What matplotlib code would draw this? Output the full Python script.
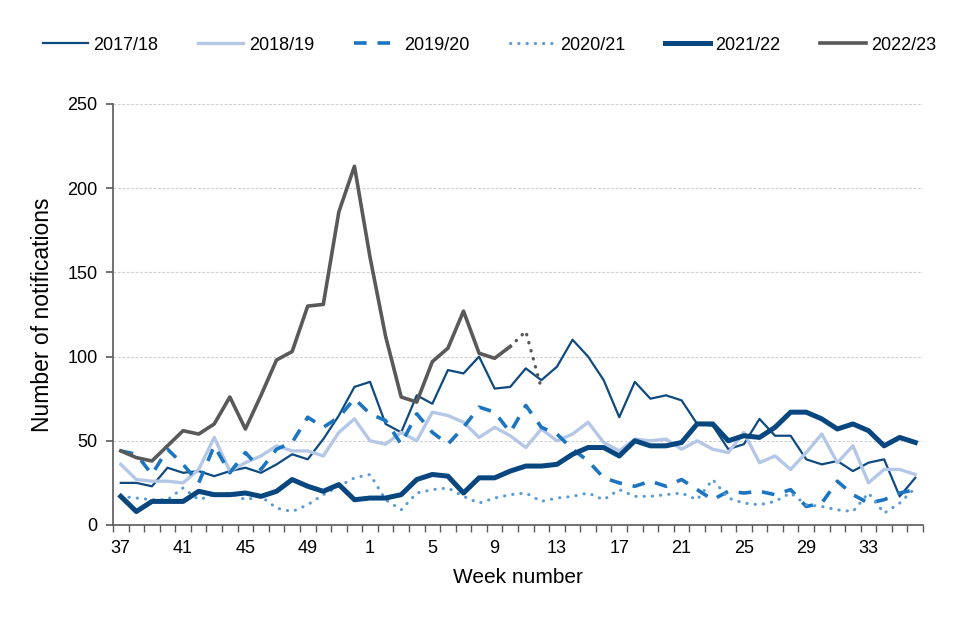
import matplotlib
matplotlib.use("Agg")
import matplotlib.pyplot as plt
import numpy as np

plt.rcParams['font.family'] = ['Liberation Sans', 'DejaVu Sans']

# week numbers along the season (week 37 to week 36)
weeks = [37, 38, 39, 40, 41, 42, 43, 44, 45, 46, 47, 48, 49, 50, 51, 52,
         1, 2, 3, 4, 5, 6, 7, 8, 9, 10, 11, 12, 13, 14, 15, 16, 17, 18,
         19, 20, 21, 22, 23, 24, 25, 26, 27, 28, 29, 30, 31, 32, 33, 34, 35, 36]
tick_weeks = [37, 41, 45, 49, 1, 5, 9, 13, 17, 21, 25, 29, 33]

s1718 = [25, 25, 23, 34, 31, 32, 29, 32, 34, 31, 36, 42, 39, 51, 65, 82,
         85, 60, 55, 77, 72, 92, 90, 100, 81, 82, 93, 86, 94, 110, 100, 86,
         64, 85, 75, 77, 74, 60, 59, 45, 48, 63, 53, 53, 39, 36, 38, 32,
         37, 39, 17, 28]
s1819 = [36, 27, 26, 26, 25, 33, 52, 32, 37, 41, 47, 44, 44, 41, 55, 63,
         50, 48, 55, 50, 67, 65, 61, 52, 58, 53, 46, 57, 50, 54, 61, 49,
         44, 51, 50, 51, 45, 50, 45, 43, 55, 37, 41, 33, 43, 54, 37, 47,
         25, 33, 33, 30]
s1920 = [44, 42, 30, 45, 36, 25, 47, 31, 43, 33, 45, 49, 64, 58, 64, 75,
         66, 62, 48, 66, 55, 48, 58, 70, 67, 55, 71, 58, 54, 45, 38, 28,
         25, 23, 26, 23, 27, 21, 15, 20, 19, 20, 18, 21, 11, 13, 26, 18,
         13, 15, 19, 21]
s2021 = [17, 16, 15, 15, 22, 15, 18, 19, 15, 17, 10, 8, 12, 18, 23, 28,
         30, 15, 9, 19, 21, 22, 17, 13, 16, 18, 19, 14, 16, 17, 19, 15,
         21, 17, 17, 18, 19, 15, 27, 16, 13, 12, 14, 19, 12, 11, 9, 8,
         19, 7, 13, 22]
s2122 = [17, 8, 14, 14, 14, 20, 18, 18, 19, 17, 20, 27, 23, 20, 24, 15,
         16, 16, 18, 27, 30, 29, 19, 28, 28, 32, 35, 35, 36, 42, 46, 46,
         41, 50, 47, 47, 49, 60, 60, 50, 53, 52, 58, 67, 67, 63, 57, 60,
         56, 47, 52, 49]
s2223 = [44, 40, 38, 47, 56, 54, 60, 76, 57, 77, 98, 103, 130, 131, 186, 213,
         159, 112, 76, 73, 97, 105, 127, 102, 99, 106]
s2223_prov = [106, 115, 81]  # weeks 10 to 12, provisional

x = np.arange(len(weeks))

fig = plt.figure(figsize=(9.6, 6.4), dpi=100)
ax = fig.add_axes([0.1177, 0.1797, 0.8438, 0.6578])

ax.plot(x, s1718, color='#0E4A80', lw=1.6, label='2017/18')
ax.plot(x, s1819, color='#B4C7E7', lw=2.4, label='2018/19')
ax.plot(x, s1920, color='#1B75C0', lw=2.6, linestyle=(0, (3.5, 3)), label='2019/20')
ax.plot(x, s2021, color='#5B9BD5', lw=2.2, linestyle=(0, (0.1, 2.6)),
        dash_capstyle='round', label='2020/21')
ax.plot(x, s2122, color='#08467F', lw=3.6, label='2021/22')
ax.plot(x[:len(s2223)], s2223, color='#595959', lw=2.6, label='2022/23')
n0 = len(s2223) - 1
ax.plot(x[n0:n0 + len(s2223_prov)], s2223_prov, color='#595959', lw=2.4,
        linestyle=(0, (0.1, 2.4)), dash_capstyle='round')

ax.set_xlim(-0.5, len(weeks) - 0.5)
ax.set_ylim(0, 250)
ax.set_yticks([0, 50, 100, 150, 200, 250])
ax.set_xticks([weeks.index(w) for w in tick_weeks])
ax.set_xticklabels([str(w) for w in tick_weeks])
ax.set_xticks(np.arange(len(weeks) + 1) - 0.5, minor=True)

ax.yaxis.grid(True, color='#CFCFCF', linestyle=(0, (2.5, 1.5)), lw=0.8)
ax.set_axisbelow(True)
for s in ['top', 'right']:
    ax.spines[s].set_visible(False)
for s in ['left', 'bottom']:
    ax.spines[s].set_color('#595959')
    ax.spines[s].set_linewidth(1.2)

ax.tick_params(axis='y', length=5, width=1.2, color='#595959', labelsize=13, pad=6)
ax.tick_params(axis='x', which='major', length=0, labelsize=13, pad=11)
ax.tick_params(axis='x', which='minor', length=5, width=1.0, color='#595959')

ax.set_xlabel('Week number', fontsize=15, labelpad=8)
ax.set_ylabel('Number of notifications', fontsize=16.5, labelpad=10)

fig.legend(loc='upper center', bbox_to_anchor=(0.51, 0.968), ncol=6, frameon=False,
           fontsize=13, handlelength=2.5, handletextpad=0.3, columnspacing=2.2)

fig.savefig('out.png', dpi=100)
